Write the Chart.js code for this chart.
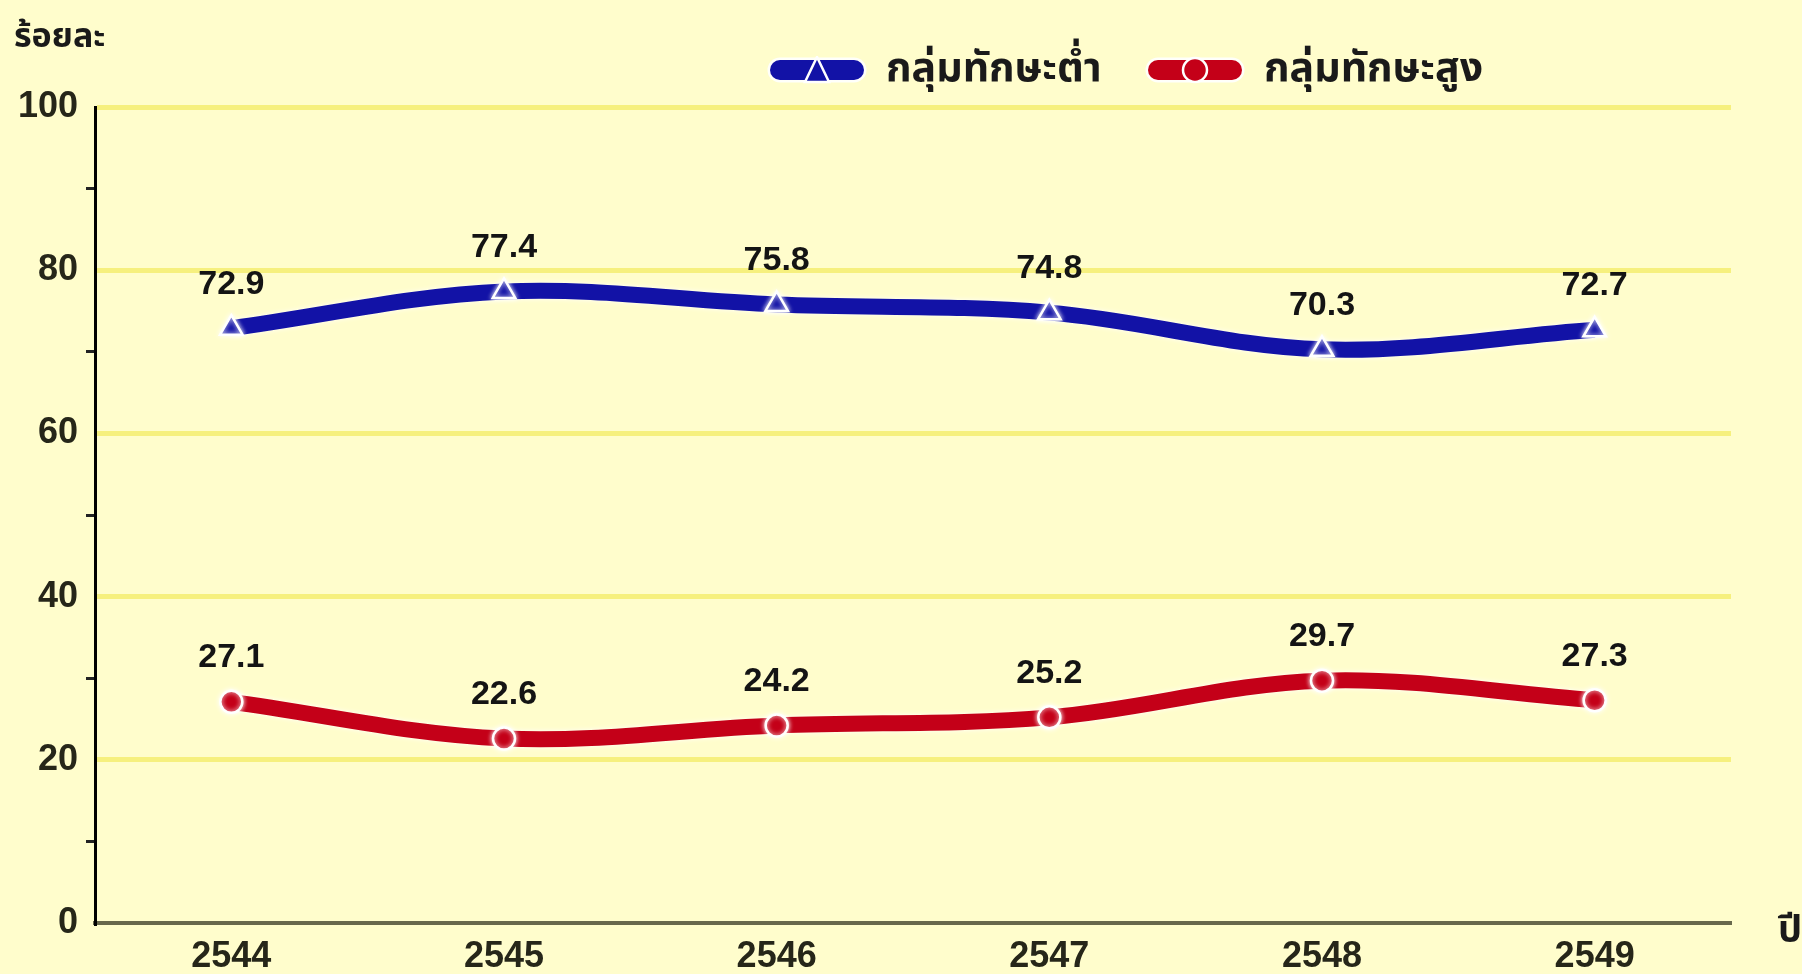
<!DOCTYPE html>
<html lang="th">
<head>
    <meta charset="UTF-8">
    <title>กลุ่มทักษะ</title>
    <script src="https://cdn.jsdelivr.net/npm/chart.js"></script>
    <style>
        html, body {
            margin: 0;
            padding: 0;
            background: #FFFDCC;
        }

        .chart-container {
            width: 1802px;
            height: 974px;
        }
    </style>
</head>
<body>
    <div class="chart-container"><canvas id="skillChart"></canvas></div>

    <script>
        const years = ['2544', '2545', '2546', '2547', '2548', '2549'];
        const lowSkill = [72.9, 77.4, 75.8, 74.8, 70.3, 72.7];
        const highSkill = [27.1, 22.6, 24.2, 25.2, 29.7, 27.3];
        const seriesNames = ['กลุ่มทักษะต่ำ', 'กลุ่มทักษะสูง'];

        const BLUE = '#1212A6';
        const RED = '#C40018';
        const GRID = '#F6F07E';
        const THAI = "'Noto Sans Thai', Tahoma, 'Noto Sans', 'DejaVu Sans', sans-serif";
        const NUM = "'Liberation Sans', Arial, sans-serif";

        // legend icon: thick rounded bar with the marker in the middle
        function legendIcon(color, style) {
            const c = document.createElement('canvas');
            c.width = 100; c.height = 28;
            const g = c.getContext('2d');
            g.lineCap = 'round';
            g.strokeStyle = 'rgba(255,255,255,0.9)';
            g.lineWidth = 25;
            g.beginPath(); g.moveTo(13, 14); g.lineTo(87, 14); g.stroke();
            g.strokeStyle = color;
            g.lineWidth = 20;
            g.beginPath(); g.moveTo(13, 14); g.lineTo(87, 14); g.stroke();
            g.fillStyle = color;
            g.strokeStyle = '#fff';
            g.lineWidth = 2.5;
            g.beginPath();
            if (style === 'triangle') {
                g.moveTo(50, 1); g.lineTo(62, 26); g.lineTo(38, 26); g.closePath();
            } else {
                g.arc(50, 14, 12, 0, Math.PI * 2);
            }
            g.fill(); g.stroke();
            return c;
        }

        const icons = [legendIcon(BLUE, 'triangle'), legendIcon(RED, 'circle')];
        const legendX = [767, 1145];

        const extrasPlugin = {
            id: 'extras',
            beforeDatasetDraw(chart) {
                const ctx = chart.ctx;
                ctx.save();
                ctx.shadowColor = 'rgba(255,255,255,0.95)';
                ctx.shadowBlur = 5;
            },
            afterDatasetDraw(chart) {
                chart.ctx.restore();
            },
            afterDatasetsDraw(chart) {
                const ctx = chart.ctx;
                ctx.save();
                ctx.font = 'bold 34px ' + NUM;
                ctx.fillStyle = '#141414';
                ctx.textAlign = 'center';
                ctx.textBaseline = 'middle';
                chart.data.datasets.forEach((ds, i) => {
                    chart.getDatasetMeta(i).data.forEach((pt, j) => {
                        ctx.fillText(ds.data[j].toFixed(1), pt.x, pt.y - 44);
                    });
                });
                ctx.restore();
            },
            afterDraw(chart) {
                const ctx = chart.ctx;
                ctx.save();
                // y axis title
                ctx.fillStyle = '#1a1a1a';
                ctx.textBaseline = 'middle';
                ctx.textAlign = 'left';
                ctx.font = 'bold 34px ' + THAI;
                ctx.fillText('ร้อยละ', 14, 40);
                // x axis unit
                ctx.font = 'bold 38px ' + THAI;
                ctx.fillText('ปี', 1778, 934);
                // legend
                ctx.font = 'bold 41px ' + THAI;
                chart.data.datasets.forEach((ds, i) => {
                    ctx.drawImage(icons[i], legendX[i], 56);
                    ctx.fillText(ds.label, legendX[i] + 119, 73);
                });
                ctx.restore();
            }
        };

        new Chart(document.getElementById('skillChart'), {
            type: 'line',
            data: {
                labels: years,
                datasets: [
                    {
                        label: seriesNames[0],
                        data: lowSkill,
                        borderColor: BLUE,
                        backgroundColor: BLUE,
                        borderWidth: 16,
                        tension: 0.35,
                        pointStyle: 'triangle',
                        pointRadius: 13,
                        pointBackgroundColor: BLUE,
                        pointBorderColor: '#ffffff',
                        pointBorderWidth: 2.5
                    },
                    {
                        label: seriesNames[1],
                        data: highSkill,
                        borderColor: RED,
                        backgroundColor: RED,
                        borderWidth: 16,
                        tension: 0.35,
                        pointStyle: 'circle',
                        pointRadius: 11,
                        pointBackgroundColor: RED,
                        pointBorderColor: '#ffffff',
                        pointBorderWidth: 2.5
                    }
                ]
            },
            options: {
                responsive: true,
                maintainAspectRatio: false,
                animation: false,
                layout: { padding: { top: 107, right: 71, bottom: 2, left: 0 } },
                plugins: {
                    legend: { display: false },
                    tooltip: { enabled: false }
                },
                scales: {
                    x: {
                        offset: true,
                        afterFit(scale) { scale.height = 49; },
                        grid: { display: false, drawTicks: false },
                        border: { color: '#68684C', width: 4 },
                        ticks: {
                            color: '#262619',
                            padding: 12,
                            font: { family: NUM, size: 36, weight: 'bold' }
                        }
                    },
                    y: {
                        min: 0,
                        max: 100,
                        afterFit(scale) { scale.width = 95; },
                        border: { color: '#000000', width: 3 },
                        grid: {
                            lineWidth: 5,
                            tickLength: 9,
                            color: c => (c.tick && c.tick.value % 20 === 0 && c.tick.value > 0) ? GRID : 'transparent',
                            tickColor: c => (c.tick && c.tick.value % 20 !== 0) ? '#222' : 'transparent',
                            tickWidth: 3
                        },
                        ticks: {
                            stepSize: 10,
                            padding: 8,
                            color: '#262619',
                            font: { family: NUM, size: 36, weight: 'bold' },
                            callback: v => (v % 20 === 0 ? v : '')
                        }
                    }
                }
            },
            plugins: [extrasPlugin]
        });
    </script>
</body>
</html>
